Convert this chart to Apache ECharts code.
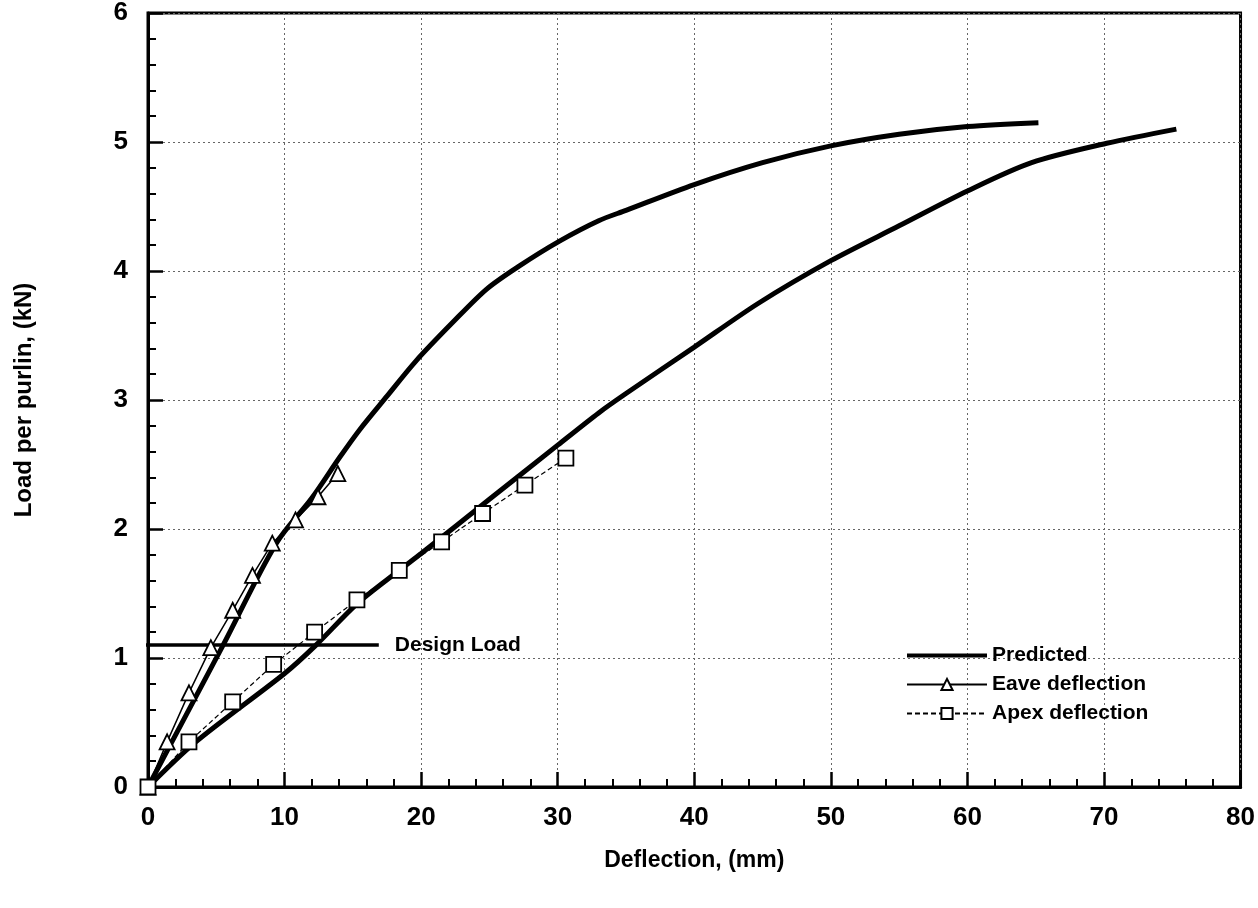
<!DOCTYPE html>
<html>
<head>
<meta charset="utf-8">
<script src="https://cdn.jsdelivr.net/npm/echarts@6/dist/echarts.min.js"></script>
<style>html,body{margin:0;padding:0;background:#fff}#c{width:1258px;height:908px}</style>
</head>
<body>
<div id="c"></div>
<script>
// Predicted curves (deflection mm, load kN)
const predEaveDefl = [0, 3, 5.5, 9.4, 12, 14, 15.5, 17.5, 19.6, 22.3, 24.8, 27.2, 30.1, 33, 35, 40, 45, 50, 55, 60, 65.2];
const predEaveLoad = [0, 0.6, 1.1, 1.89, 2.24, 2.55, 2.77, 3.03, 3.3, 3.6, 3.86, 4.04, 4.23, 4.39, 4.47, 4.67, 4.84, 4.97, 5.06, 5.12, 5.15];
const predApexDefl = [0, 3.5, 10, 12.3, 15.3, 18.4, 20, 25, 30, 33, 35, 40, 44.7, 50, 55, 60, 64.7, 70.2, 75.3];
const predApexLoad = [0, 0.35, 0.88, 1.1, 1.42, 1.68, 1.81, 2.23, 2.65, 2.9, 3.05, 3.41, 3.75, 4.08, 4.35, 4.62, 4.84, 4.99, 5.1];
// Measured
const eaveDefl = [0, 1.4, 3.0, 4.6, 6.2, 7.65, 9.1, 10.8, 12.45, 13.9];
const eaveLoad = [0, 0.35, 0.73, 1.08, 1.37, 1.64, 1.89, 2.07, 2.25, 2.43];
const apexDefl = [0, 3.0, 6.2, 9.2, 12.2, 15.3, 18.4, 21.5, 24.5, 27.6, 30.6];
const apexLoad = [0, 0.35, 0.66, 0.95, 1.2, 1.45, 1.68, 1.9, 2.12, 2.34, 2.55];
// Design load
const designDefl = [-1.1, 16.9];
const designLoad = [1.1, 1.1];
const xTicks = [0, 10, 20, 30, 40, 50, 60, 70, 80];
const yTicks = [0, 1, 2, 3, 4, 5, 6];

const zip = (a, b) => a.map((v, i) => [v, b[i]]);
const FONT = 'Liberation Sans';

const chart = echarts.init(document.getElementById('c'));
chart.setOption({
  backgroundColor: '#fff',
  animation: false,
  grid: { left: 148, right: 16, top: 13, bottom: 121, show: true, borderColor: '#000', borderWidth: 3 },
  legend: {
    orient: 'vertical', left: 900, top: 640, itemWidth: 80, itemHeight: 14, itemGap: 8,
    data: [
      { name: 'Predicted', itemStyle: { opacity: 0 }, lineStyle: { width: 4 } },
      { name: 'Eave deflection' },
      { name: 'Apex deflection' }
    ],
    textStyle: { fontFamily: FONT, fontWeight: 'bold', fontSize: 21, color: '#000' }
  },
  xAxis: {
    type: 'value', min: xTicks[0], max: xTicks[xTicks.length - 1], interval: 10,
    name: 'Deflection, (mm)', nameLocation: 'middle', nameGap: 62,
    nameTextStyle: { fontFamily: FONT, fontWeight: 'bold', fontSize: 23, color: '#000' },
    axisLine: { lineStyle: { color: '#000', width: 3 } },
    axisTick: { inside: true, length: 15, lineStyle: { color: '#000', width: 2.5 } },
    minorTick: { show: true, splitNumber: 5, length: 8, lineStyle: { color: '#000', width: 2 } },
    axisLabel: { margin: 18, fontFamily: FONT, fontWeight: 'bold', fontSize: 26, color: '#000' },
    splitLine: { show: true, lineStyle: { color: '#666', width: 1, type: [2, 3] } }
  },
  yAxis: {
    type: 'value', min: yTicks[0], max: yTicks[yTicks.length - 1], interval: 1,
    name: 'Load per purlin, (kN)', nameLocation: 'middle', nameGap: 112,
    nameTextStyle: { fontFamily: FONT, fontWeight: 'bold', fontSize: 24, color: '#000' },
    axisLine: { lineStyle: { color: '#000', width: 3 } },
    axisTick: { inside: true, length: 15, lineStyle: { color: '#000', width: 2.5 } },
    minorTick: { show: true, splitNumber: 5, length: 8, lineStyle: { color: '#000', width: 2 } },
    axisLabel: { margin: 20, fontFamily: FONT, fontWeight: 'bold', fontSize: 26, color: '#000' },
    splitLine: { show: true, lineStyle: { color: '#666', width: 1, type: [2, 3] } }
  },
  series: [
    {
      name: 'Predicted', type: 'line', data: zip(predEaveDefl, predEaveLoad), smooth: 0.3,
      showSymbol: false, symbol: 'none', lineStyle: { color: '#000', width: 5 }, itemStyle: { color: '#000' }, z: 3
    },
    {
      name: 'Predicted', type: 'line', data: zip(predApexDefl, predApexLoad), smooth: 0.3,
      showSymbol: false, symbol: 'none', lineStyle: { color: '#000', width: 5 }, itemStyle: { color: '#000' }, z: 3
    },
    {
      name: 'Eave deflection', type: 'line', data: zip(eaveDefl, eaveLoad),
      symbol: 'triangle', symbolSize: 15, showAllSymbol: true,
      lineStyle: { color: '#000', width: 1.5 },
      itemStyle: { color: '#fff', borderColor: '#000', borderWidth: 1.8 }, z: 4
    },
    {
      name: 'Apex deflection', type: 'line', data: zip(apexDefl, apexLoad),
      symbol: 'rect', symbolSize: 15, showAllSymbol: true,
      lineStyle: { color: '#000', width: 1.2, type: [5, 3] },
      itemStyle: { color: '#fff', borderColor: '#000', borderWidth: 1.8 }, z: 5
    },
    {
      name: 'Design Load', type: 'line', data: zip(designDefl, designLoad), clip: false,
      symbol: 'none', lineStyle: { color: '#000', width: 3.5 }, z: 2,
      endLabel: { show: true, formatter: 'Design Load', distance: 16, fontFamily: FONT, fontWeight: 'bold', fontSize: 21, color: '#000' }
    }
  ]
});
</script>
</body>
</html>
